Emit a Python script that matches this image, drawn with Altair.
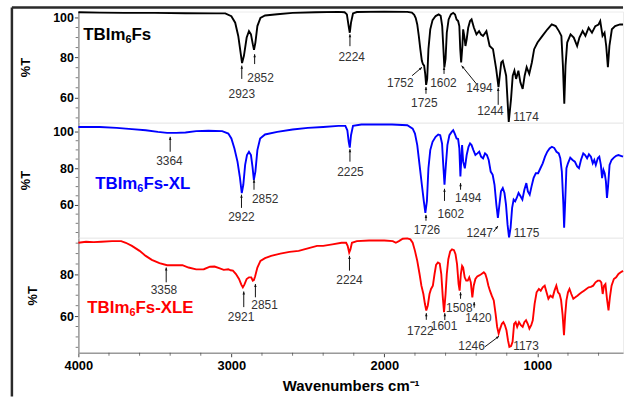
import math
import altair as alt
import pandas as pd

FONT = "Liberation Sans"

# ---------------- data ----------------
X_DOMAIN = [4000, 440]

# TBIm6Fs (black)
wn_top = [4000, 3860, 3700, 3500, 3300, 3100, 3040, 3000, 2975, 2955, 2940, 2930, 2918, 2900,
          2885, 2872, 2860, 2852, 2843, 2830, 2810, 2780, 2700, 2600, 2450, 2300, 2260, 2245,
          2232, 2226, 2218, 2205, 2180, 2000, 1850, 1820, 1805, 1795, 1785, 1775, 1765, 1755,
          1748, 1740, 1733, 1727, 1720, 1712, 1700, 1685, 1665, 1645, 1632, 1622, 1614, 1608,
          1600, 1592, 1580, 1565, 1550, 1538, 1528, 1518, 1510, 1504, 1498, 1490, 1485, 1478,
          1470, 1462, 1452, 1440, 1430, 1415, 1398, 1381, 1368, 1355, 1333, 1312, 1290, 1269,
          1254, 1236, 1226, 1204, 1187, 1172, 1161, 1150, 1139, 1124, 1111, 1096, 1083, 1070,
          1053, 1036, 1021, 999, 967, 934, 906, 880, 859, 843, 833, 824, 816, 805, 783, 762,
          740, 725, 704, 686, 665, 643, 621, 600, 589, 574, 561, 550, 539, 529, 513, 492, 460, 440]
t_top = [102.6, 102.4, 102.3, 102.3, 102.1, 102.0, 102.0, 100.6, 97.4, 90.8, 82.6, 77.3, 80.9, 90.0,
         93.2, 91.6, 86.7, 83.9, 87.5, 95.7, 99.8, 101.0, 101.6, 102.3, 102.6, 102.8, 102.6, 101.5,
         94.9, 92.4, 97.4, 102.0, 102.7, 102.9, 102.8, 102.4, 101.3, 99.7, 96.5, 90.8, 84.2, 78.4,
         76.8, 76.0, 71.9, 66.4, 69.4, 84.2, 94.1, 98.7, 100.7, 101.5, 100.8, 95.7, 84.2, 75.2,
         79.3, 92.4, 99.0, 101.5, 102.3, 101.5, 99.0, 98.2, 95.7, 84.2, 77.6, 85.8, 94.1, 90.8,
         85.8, 89.1, 94.9, 98.2, 99.0, 95.0, 91.6, 93.2, 91.5, 90.8, 93.2, 85.8, 84.2, 74.3,
         65.3, 77.6, 78.4, 71.0, 48.0, 59.5, 71.0, 73.5, 69.4, 73.5, 67.7, 64.4, 71.0, 75.2,
         71.9, 77.6, 84.2, 87.5, 90.8, 94.1, 96.5, 95.7, 93.2, 90.8, 76.0, 57.0, 76.0, 87.5, 91.6, 90.0,
         85.8, 90.0, 93.2, 90.8, 94.9, 92.4, 95.7, 96.5, 98.2, 90.8, 92.4, 85.8, 75.2, 85.8, 94.1, 95.7, 96.5, 96.5]

# TBIm6Fs-XL (blue)
wn_mid = [4000, 3860, 3750, 3650, 3560, 3480, 3420, 3360, 3300, 3230, 3150, 3060, 3020, 3000,
          2980, 2960, 2945, 2932, 2922, 2910, 2898, 2885, 2872, 2862, 2853, 2843, 2830, 2812,
          2780, 2700, 2600, 2500, 2400, 2300, 2255, 2242, 2233, 2226, 2218, 2205, 2150, 1950,
          1850, 1815, 1800, 1785, 1770, 1755, 1742, 1732, 1722, 1712, 1700, 1685, 1665, 1648,
          1635, 1623, 1615, 1607, 1598, 1588, 1575, 1560, 1550, 1540, 1528, 1518, 1510, 1503,
          1497, 1492, 1485, 1474, 1462, 1450, 1440, 1430, 1418, 1405, 1392, 1380, 1368, 1355,
          1342, 1330, 1318, 1305, 1292, 1280, 1268, 1258, 1248, 1238, 1226, 1215, 1205, 1195,
          1185, 1175, 1165, 1155, 1145, 1135, 1123, 1110, 1098, 1085, 1072, 1062, 1050, 1038,
          1025, 1010, 995, 980, 965, 950, 935, 920, 905, 890, 875, 860, 850, 840, 830, 825, 818,
          810, 800, 785, 770, 755, 740, 728, 715, 700, 688, 675, 663, 650, 638, 628, 618, 605,
          595, 585, 577, 568, 560, 552, 545, 538, 528, 515, 500, 485, 470, 455, 440]
t_mid = [102.5, 102.5, 102.0, 101.3, 100.7, 99.8, 99.3, 99.3, 99.5, 100.2, 100.4, 100.2, 98.9, 96.2,
         90.8, 83.6, 75.5, 66.5, 71.0, 81.8, 87.2, 89.0, 87.2, 80.9, 73.7, 78.2, 89.9, 96.2,
         98.4, 99.8, 101.1, 102.0, 102.5, 103.1, 103.1, 100.7, 94.4, 91.2, 98.0, 103.1, 103.8, 103.8,
         103.4, 101.6, 98.9, 92.6, 81.8, 71.0, 62.0, 55.7, 62.0, 80.0, 89.9, 94.4, 97.1, 98.4,
         98.0, 93.5, 81.8, 71.0, 81.8, 92.6, 98.0, 99.8, 100.7, 98.9, 96.2, 95.9, 90.8, 75.5,
         85.4, 92.6, 83.6, 80.0, 87.2, 91.7, 93.5, 92.6, 89.9, 87.2, 88.1, 89.0, 86.3, 85.4,
         88.1, 87.2, 84.5, 78.2, 76.4, 71.0, 60.2, 53.0, 60.2, 67.4, 69.2, 66.5, 60.2, 49.4,
         42.2, 47.6, 58.4, 62.9, 62.0, 63.8, 66.5, 64.7, 62.9, 68.3, 71.9, 67.4, 65.6, 70.1,
         74.6, 77.3, 77.3, 80.0, 82.7, 86.3, 89.0, 90.8, 91.7, 91.1, 89.0, 88.1, 85.4, 78.2, 60.2, 47.6, 62.0,
         80.0, 82.7, 85.8, 84.5, 83.6, 81.0, 80.0, 84.5, 88.1, 87.2, 85.4, 87.6, 86.3, 82.7, 84.5, 81.8, 85.4,
         86.3, 81.8, 74.6, 79.1, 77.3, 72.8, 63.8, 70.1, 81.8, 84.5, 85.8, 86.8, 87.2, 86.8, 86.3]

# TBIm6Fs-XLE (red)
wn_bot = [4000, 3950, 3900, 3850, 3780, 3720, 3690, 3650, 3600, 3560, 3520, 3470, 3420, 3370,
          3320, 3280, 3230, 3180, 3140, 3110, 3080, 3050, 3020, 3005, 2990, 2970, 2950, 2935,
          2925, 2915, 2900, 2885, 2870, 2860, 2853, 2845, 2830, 2810, 2780, 2740, 2680, 2620,
          2560, 2500, 2440, 2400, 2340, 2280, 2250, 2240, 2230, 2222, 2212, 2180, 2100, 2000,
          1945, 1925, 1905, 1880, 1850, 1830, 1815, 1800, 1785, 1770, 1758, 1745, 1735, 1726,
          1716, 1705, 1695, 1683, 1672, 1662, 1650, 1638, 1628, 1618, 1610, 1600, 1592, 1582,
          1570, 1558, 1545, 1535, 1525, 1515, 1508, 1500, 1492, 1485, 1475, 1465, 1455, 1445,
          1435, 1425, 1416, 1405, 1393, 1380, 1365, 1350, 1340, 1330, 1320, 1310, 1298, 1285,
          1273, 1263, 1253, 1243, 1232, 1222, 1212, 1202, 1192, 1183, 1172, 1162, 1152, 1142,
          1132, 1120, 1108, 1096, 1085, 1074, 1063, 1052, 1040, 1030, 1018, 1005, 990, 978,
          965, 952, 940, 928, 915, 900, 888, 876, 865, 855, 845, 835, 826, 818, 810, 800, 790,
          778, 765, 752, 738, 725, 710, 695, 680, 665, 650, 635, 620, 605, 592, 582, 573, 564,
          555, 545, 535, 526, 515, 500, 485, 470, 455, 440]
t_bot = [95.2, 95.7, 95.5, 95.7, 96.0, 96.0, 95.2, 93.7, 91.3, 88.9, 87.0, 85.4, 84.4, 84.4,
         84.4, 83.3, 82.4, 82.5, 83.7, 83.8, 83.0, 82.2, 82.5, 82.0, 81.8, 80.2, 77.8, 75.1,
         73.8, 75.1, 77.8, 78.6, 78.6, 77.0, 77.3, 79.0, 83.3, 86.5, 87.8, 88.9, 90.0, 90.8,
         91.3, 92.5, 93.7, 93.7, 94.4, 95.2, 95.2, 93.7, 90.5, 92.0, 95.2, 96.0, 96.3, 96.3,
         96.0, 95.2, 96.0, 97.1, 97.3, 96.8, 95.2, 91.3, 86.5, 80.2, 74.6, 70.6, 65.9, 62.7,
         65.1, 70.6, 73.0, 74.6, 80.2, 84.6, 85.7, 85.2, 80.2, 69.0, 61.9, 70.6, 80.2, 87.3,
         91.0, 92.0, 91.6, 89.7, 84.9, 75.4, 72.2, 80.2, 84.1, 83.3, 78.6, 77.0, 77.0, 78.6,
         76.2, 69.0, 74.6, 77.8, 79.0, 79.5, 80.2, 81.0, 80.2, 77.8, 74.6, 72.2, 69.8, 67.5,
         61.1, 54.8, 51.6, 54.0, 56.3, 57.1, 55.6, 53.2, 48.4, 45.2, 45.6, 47.6, 56.3, 57.1,
         54.8, 57.1, 55.6, 54.8, 57.1, 58.0, 56.3, 54.0, 55.6, 58.0, 65.9, 71.4, 73.0, 72.2,
         73.8, 74.6, 71.4, 68.3, 69.8, 69.0, 72.2, 74.6, 71.4, 70.6, 67.7, 60.6, 50.8, 60.6, 67.5, 71.4, 73.0,
         70.6, 68.3, 69.0, 69.8, 70.6, 71.4, 72.2, 73.0, 73.8, 74.0, 74.6, 76.2, 77.0, 77.0, 76.2, 70.6, 74.6,
         75.4, 68.3, 62.7, 69.0, 74.6, 77.8, 78.6, 80.2, 81.0, 81.7]

# peak annotations: label text, label position, arrow tail -> head
top_labels = ["2923", "2852", "2224", "1752", "1725", "1602", "1494", "1244", "1174"]
top_label_wn = [2932, 2809, 2214, 1896, 1739, 1614, 1379, 1307, 1074]
top_label_t = [62.0, 69.9, 80.2, 67.4, 57.4, 67.4, 64.8, 53.6, 50.5]
top_arrow_wn0 = [2932, 2848, 2225, 1819, 1728, 1610, 1398, 1256]
top_arrow_t0 = [69.4, 76.8, 85.7, 71.0, 62.0, 71.9, 66.9, 56.5]
top_arrow_wn1 = [2932, 2848, 2225, 1754, 1728, 1610, 1495, 1256]
top_arrow_t1 = [76.0, 81.7, 91.6, 75.2, 65.4, 75.3, 76.0, 64.9]

mid_labels = ["3364", "2922", "2852", "2225", "1726", "1602", "1494", "1247", "1175"]
mid_label_wn = [3405, 2934, 2779, 2222, 1722, 1566, 1452, 1377, 1070]
mid_label_t = [84.2, 53.5, 63.2, 78.2, 46.6, 54.8, 63.6, 44.9, 44.9]
mid_arrow_wn0 = [3400, 2934, 2852, 2225, 1728, 1607, 1502, 1286]
mid_arrow_t0 = [89.0, 58.4, 68.3, 83.6, 51.4, 62.2, 68.3, 45.4]
mid_arrow_wn1 = [3400, 2934, 2852, 2225, 1728, 1607, 1502, 1258]
mid_arrow_t1 = [97.1, 65.6, 73.7, 90.4, 54.6, 68.8, 71.9, 48.5]

bot_labels = ["3358", "2921", "2851", "2224", "1722", "1601", "1508", "1420", "1246", "1173"]
bot_label_wn = [3441, 2937, 2783, 2228, 1765, 1610, 1510, 1385, 1430, 1074]
bot_label_t = [72.7, 59.5, 65.4, 77.5, 52.9, 55.2, 64.0, 59.0, 45.7, 45.6]
bot_arrow_wn0 = [3426, 2919, 2843, 2228, 1726, 1605, 1502, 1413, 1344]
bot_arrow_t0 = [76.2, 64.3, 69.0, 81.8, 58.2, 58.1, 68.3, 64.0, 45.2]
bot_arrow_wn1 = [3426, 2919, 2843, 2228, 1726, 1605, 1502, 1413, 1251]
bot_arrow_t1 = [83.3, 71.8, 75.4, 88.9, 61.4, 61.4, 71.4, 66.7, 50.3]

# sample names, split around the subscript "6"
name_head = ["TBIm", "TBIm", "TBIm"]
name_sub = ["6", "6", "6"]
name_tail = ["Fs", "Fs-XL", "Fs-XLE"]
series_colors = ["#000000", "#0000ff", "#ff0000"]
name_wn = [3968, 3890, 3942]
name_t = [91.6, 71.9, 64.3]

x_major = [4000, 3000, 2000, 1000]
x_minor = [3800, 3600, 3400, 3200, 2800, 2600, 2400, 2200, 1800, 1600, 1400, 1200, 800, 600]
y_major = [60, 80, 100]

# ---------------- layout ----------------
W = 549
ARROW_PATH = "M0,0L-0.55,1.3L0.55,1.3Z"
NAME_SIZE = 17
SUB_SIZE = 11


def make_panel(i, wn, t, ydom, h, labels, lwn, lt, a0w, a0t, a1w, a1t,
               yminor, show_x, extra=()):
    color = series_colors[i]
    xs = W / (X_DOMAIN[0] - X_DOMAIN[1])
    ys = h / (ydom[1] - ydom[0])
    angles = []
    for w0, t0, w1, t1 in zip(a0w, a0t, a1w, a1t):
        ang = math.degrees(math.atan2((w0 - w1) * xs, (t1 - t0) * ys)) % 360
        angles.append(ang)

    xscale = alt.Scale(domain=X_DOMAIN, nice=False, zero=False)
    yscale = alt.Scale(domain=ydom, nice=False, zero=False)
    if show_x:
        xaxis = alt.Axis(
            values=x_major, format="d", tickSize=4, grid=False, labelFlush=False,
            labelFont=FONT, labelFontSize=13, labelFontWeight="bold", labelColor="#000",
            labelPadding=3, titleFont=FONT,
            titleFontSize=15, titleFontWeight="bold", titleColor="#000", titlePadding=6,
            domainColor="#9a9a9a", domainWidth=1.5, tickColor="#444")
    else:
        xaxis = None
    yaxis = alt.Axis(
        values=y_major, tickSize=4, grid=False, labelFlush=False,
        labelFont=FONT, labelFontSize=12.5, labelFontWeight="bold", labelColor="#000",
        labelPadding=1, titleFont=FONT, titleFontSize=13, titleFontWeight="bold",
        titleColor="#000", titlePadding=20, domainColor="#9a9a9a", domainWidth=1.5,
        tickColor="#444")
    XT = "Wavenumbers cm\u207b\u00b9"
    YT = "%T"

    def X(f):
        return alt.X(f, scale=xscale, axis=xaxis, title=XT)

    def Y(f):
        return alt.Y(f, scale=yscale, axis=yaxis, title=YT)

    line_df = pd.DataFrame({"wn": wn, "t": t})
    line = alt.Chart(line_df).mark_line(color=color, strokeWidth=1.9, clip=False).encode(
        x=X("wn:Q"), y=Y("t:Q"))
    ym_df = pd.DataFrame({"v": yminor})
    ytick = alt.Chart(ym_df).mark_tick(orient="horizontal", size=2.5, thickness=1,
                                       color="#444").encode(
        y=Y("v:Q"), x=alt.value(-1.5))
    layers = [line, ytick]
    if show_x:
        xm_df = pd.DataFrame({"v": x_minor})
        xtick = alt.Chart(xm_df).mark_tick(orient="vertical", size=3, thickness=1,
                                           color="#444").encode(
            x=X("v:Q"), y=alt.value(h + 1.5))
        layers.append(xtick)

    arr_df = pd.DataFrame({"w0": a0w, "t0": a0t, "w1": a1w, "t1": a1t, "ang": angles})
    shafts = alt.Chart(arr_df).mark_rule(color="#111", strokeWidth=1).encode(
        x=X("w0:Q"), y=Y("t0:Q"), x2="w1:Q", y2="t1:Q")
    heads = alt.Chart(arr_df).mark_point(shape=ARROW_PATH, filled=True, color="#111",
                                         size=22, opacity=1).encode(
        x=X("w1:Q"), y=Y("t1:Q"), angle=alt.Angle("ang:Q", scale=None))
    lab_df = pd.DataFrame({"lab": labels, "w": lwn, "t": lt})
    texts = alt.Chart(lab_df).mark_text(font=FONT, fontSize=12, color="#333",
                                        baseline="middle", align="center").encode(
        x=X("w:Q"), y=Y("t:Q"), text="lab:N")

    # sample name with a subscript: three text pieces on one anchor
    head_w = NAME_SIZE * 2.5          # width of "TBIm" in bold Liberation Sans
    sub_w = SUB_SIZE * 0.556          # width of the digit
    name_df = pd.DataFrame({"head": [name_head[i]], "sub": [name_sub[i]],
                            "tail": [name_tail[i]], "w": [name_wn[i]], "t": [name_t[i]]})
    base = alt.Chart(name_df)
    n1 = base.mark_text(font=FONT, fontSize=NAME_SIZE, fontWeight="bold", color=color,
                        align="left", baseline="alphabetic", dy=6).encode(
        x=X("w:Q"), y=Y("t:Q"), text="head:N")
    n2 = base.mark_text(font=FONT, fontSize=SUB_SIZE, fontWeight="bold", color=color,
                        align="left", baseline="alphabetic", dx=head_w, dy=9).encode(
        x=X("w:Q"), y=Y("t:Q"), text="sub:N")
    n3 = base.mark_text(font=FONT, fontSize=NAME_SIZE, fontWeight="bold", color=color,
                        align="left", baseline="alphabetic", dx=head_w + sub_w, dy=6).encode(
        x=X("w:Q"), y=Y("t:Q"), text="tail:N")
    layers += [shafts, heads, texts, n1, n2, n3] + list(extra)
    return alt.layer(*layers).properties(width=W, height=h)


frame_df = pd.DataFrame({"k": [0]})
frame_top = alt.Chart(frame_df).mark_rule(color="#2a2a2a", strokeWidth=2.5).encode(
    x=alt.value(-67), x2=alt.value(W), y=alt.value(-4))
frame_left = alt.Chart(frame_df).mark_rule(color="#2a2a2a", strokeWidth=2.5).encode(
    x=alt.value(-67), y=alt.value(-4), y2=alt.value(388))

top = make_panel(0, wn_top, t_top, [47.65, 102.96], 112, top_labels,
                 top_label_wn, top_label_t, top_arrow_wn0, top_arrow_t0, top_arrow_wn1,
                 top_arrow_t1, [50, 55, 65, 70, 75, 85, 90, 95], False,
                 extra=(frame_top, frame_left))
mid = make_panel(1, wn_mid, t_mid, [42.16, 104.86], 116, mid_labels,
                 mid_label_wn, mid_label_t, mid_arrow_wn0, mid_arrow_t0, mid_arrow_wn1,
                 mid_arrow_t1, [45, 50, 55, 65, 70, 75, 85, 90, 95], False)
bot = make_panel(2, wn_bot, t_bot, [42.38, 97.62], 116, bot_labels,
                 bot_label_wn, bot_label_t, bot_arrow_wn0, bot_arrow_t0, bot_arrow_wn1,
                 bot_arrow_t1, [45, 50, 55, 65, 70, 75, 85, 90, 95], True)

chart = alt.vconcat(top, mid, bot, spacing=0, bounds="flush").resolve_scale(
    y="independent").properties(
    padding={"left": 10, "top": 4, "right": 0, "bottom": 0},
    background="white",
).configure_view(stroke="#ececec", strokeWidth=1).configure_axis(grid=False)

chart.save("out.html", embed_options={"renderer": "svg", "actions": False})
